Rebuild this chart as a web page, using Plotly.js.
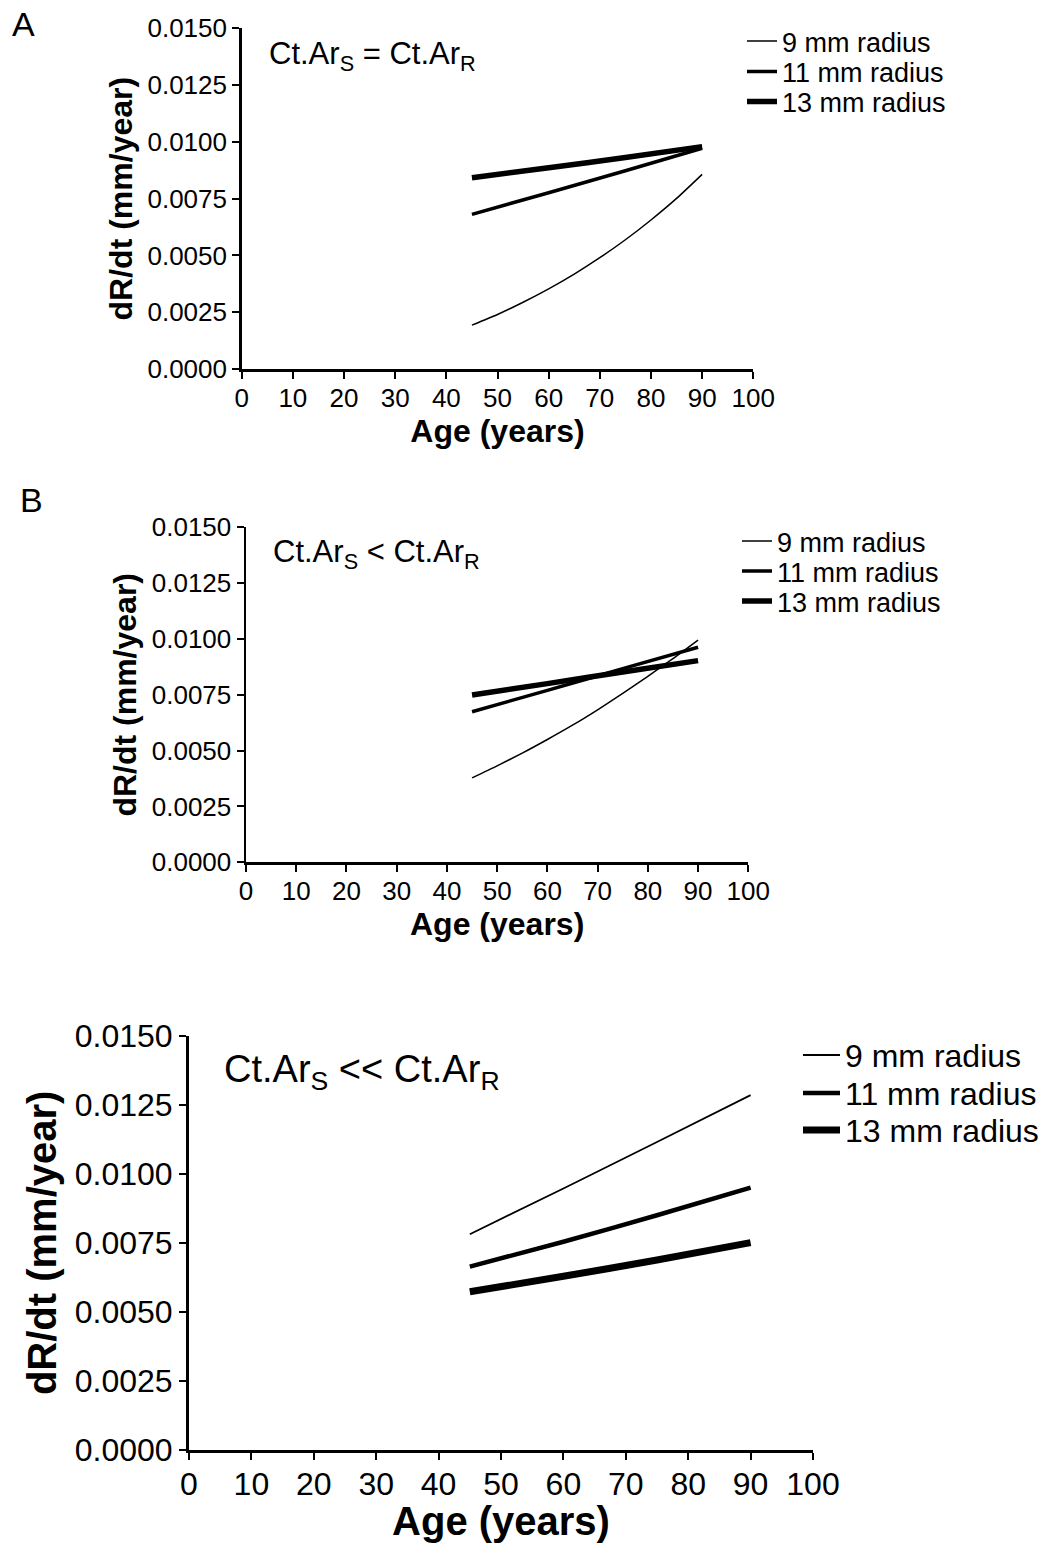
<!DOCTYPE html>
<html>
<head>
<meta charset="utf-8">
<script src="https://cdn.plot.ly/plotly-3.0.1.min.js"></script>
<style>html,body{margin:0;padding:0;background:#fff;}#chart{width:1060px;height:1543px;}</style>
</head>
<body>
<div id="chart"></div>
<script>
// ---------- data ----------
const ageCurve = [45, 50, 55, 60, 65, 70, 75, 80, 85, 90];
const ageLine = [45, 60, 75, 90];
const seriesNames = ['9 mm radius', '11 mm radius', '13 mm radius'];

// Panel A: Ct.Ar_S = Ct.Ar_R
const a9  = [0.00193, 0.00240, 0.00294, 0.00353, 0.00418, 0.00490, 0.00569, 0.00656, 0.00751, 0.00857];
const a11 = [0.00681, 0.00776, 0.00873, 0.00972];
const a13 = [0.00842, 0.00886, 0.00931, 0.00979];

// Panel B: Ct.Ar_S < Ct.Ar_R
const b9  = [0.00378, 0.00432, 0.00489, 0.00550, 0.00614, 0.00683, 0.00756, 0.00833, 0.00912, 0.00995];
const b11 = [0.00674, 0.00770, 0.00867, 0.00963];
const b13 = [0.00749, 0.00800, 0.00852, 0.00903];

// Panel C: Ct.Ar_S << Ct.Ar_R
const c9  = [0.00781, 0.00947, 0.01115, 0.01285];
const c11 = [0.00664, 0.00754, 0.00850, 0.00950];
const c13 = [0.00573, 0.00629, 0.00688, 0.00751];

const xTitle = 'Age (years)';
const yTitle = 'dR/dt (mm/year)';
const panelTexts = ['Ct.Ar<sub>S</sub> = Ct.Ar<sub>R</sub>', 'Ct.Ar<sub>S</sub> &lt; Ct.Ar<sub>R</sub>', 'Ct.Ar<sub>S</sub> &lt;&lt; Ct.Ar<sub>R</sub>'];
const panelLetters = ['A', 'B'];

// ---------- styling ----------
const FONT = 'Liberation Sans, Arial, Helvetica, sans-serif';
const W = 1060, H = 1543;
const px = v => v / W;
const py = v => 1 - v / H;

function tr(x, y, name, width, xa, ya, leg) {
  return {
    type: 'scatter', mode: 'lines', x: x, y: y, name: name,
    xaxis: xa, yaxis: ya, legend: leg, showlegend: true, hoverinfo: 'skip',
    line: {color: '#000', width: width, shape: 'spline', smoothing: 0.6}
  };
}

const wA = [1.5, 3.5, 5.5];
const wC = [1.8, 4.5, 7];
const data = [
  tr(ageCurve, a9,  seriesNames[0], wA[0], 'x', 'y', 'legend'),
  tr(ageLine,  a11, seriesNames[1], wA[1], 'x', 'y', 'legend2'),
  tr(ageLine,  a13, seriesNames[2], wA[2], 'x', 'y', 'legend3'),
  tr(ageCurve, b9,  seriesNames[0], wA[0], 'x2', 'y2', 'legend4'),
  tr(ageLine,  b11, seriesNames[1], wA[1], 'x2', 'y2', 'legend5'),
  tr(ageLine,  b13, seriesNames[2], wA[2], 'x2', 'y2', 'legend6'),
  tr(ageLine,  c9,  seriesNames[0], wC[0], 'x3', 'y3', 'legend7'),
  tr(ageLine,  c11, seriesNames[1], wC[1], 'x3', 'y3', 'legend8'),
  tr(ageLine,  c13, seriesNames[2], wC[2], 'x3', 'y3', 'legend9')
];

function xax(domain, anchor, tick, title, lw) {
  return {
    domain: domain, anchor: anchor, range: [0, 100], dtick: 10, tick0: 0,
    showline: true, linecolor: '#000', linewidth: lw, ticks: 'outside', ticklen: 7, tickwidth: 2, tickcolor: '#000',
    ticklabelstandoff: -3,
    showgrid: false, zeroline: false, fixedrange: true,
    tickfont: {family: FONT, size: tick, color: '#000'},
    title: {text: xTitle, font: {family: FONT, size: title, color: '#000', weight: 'bold'}, standoff: 0}
  };
}
function yax(domain, anchor, tick, title, lw, so) {
  return {
    domain: domain, anchor: anchor, range: [0, 0.015], dtick: 0.0025, tick0: 0, tickformat: '.4f',
    showline: true, linecolor: '#000', linewidth: lw, ticks: 'outside', ticklen: 7, tickwidth: 2, tickcolor: '#000',
    showgrid: false, zeroline: false, fixedrange: true,
    tickfont: {family: FONT, size: tick, color: '#000'},
    title: {text: yTitle, font: {family: FONT, size: title, color: '#000', weight: 'bold'}, standoff: so}
  };
}
// one legend per entry so each row sits where the reference has it
function leg(xLine, yCenter, size, iw) {
  const off = (1.3 * size + 3) / 2 + 5;
  return {x: px(xLine - 5), y: py(yCenter - off), xanchor: 'left', yanchor: 'top', bgcolor: 'rgba(0,0,0,0)', borderwidth: 0,
          font: {family: FONT, size: size, color: '#000'}, itemwidth: iw};
}

const layout = {
  width: W, height: H, margin: {l: 0, r: 0, t: 0, b: 0},
  paper_bgcolor: '#fff', plot_bgcolor: '#fff', showlegend: true,
  font: {family: FONT, color: '#000'},
  xaxis:  xax([px(241.7), px(753.3)], 'y', 26, 32, 2.5),
  yaxis:  yax([py(369), py(28.3)], 'x', 26, 32, 2.5, 6),
  xaxis2: xax([px(246), px(748.3)], 'y2', 26, 32, 2.5),
  yaxis2: yax([py(862.3), py(527.3)], 'x2', 26, 32, 2.5, 6),
  xaxis3: xax([px(189), px(813)], 'y3', 32, 40, 3),
  yaxis3: yax([py(1450), py(1035.7)], 'x3', 32, 40, 3, 6),
  legend:  leg(747, 41, 27, 30),
  legend2: leg(747, 71.5, 27, 30),
  legend3: leg(747, 101.5, 27, 30),
  legend4: leg(742, 541, 27, 30),
  legend5: leg(742, 571, 27, 30),
  legend6: leg(742, 601, 27, 30),
  legend7: leg(803, 1055, 32, 37),
  legend8: leg(803, 1093, 32, 37),
  legend9: leg(803, 1130, 32, 37),
  annotations: [
    {xref: 'x', yref: 'y', x: 5, y: 0.0138, xanchor: 'left', yanchor: 'middle', text: panelTexts[0], showarrow: false, font: {family: FONT, size: 31, color: '#000'}},
    {xref: 'x2', yref: 'y2', x: 5, y: 0.0138, xanchor: 'left', yanchor: 'middle', text: panelTexts[1], showarrow: false, font: {family: FONT, size: 31, color: '#000'}},
    {xref: 'x3', yref: 'y3', x: 5.3, y: 0.0137, xanchor: 'left', yanchor: 'middle', text: panelTexts[2], showarrow: false, font: {family: FONT, size: 38, color: '#000'}},
    {xref: 'paper', yref: 'paper', x: px(10), y: py(3), xanchor: 'left', yanchor: 'top', text: panelLetters[0], showarrow: false, font: {family: FONT, size: 34, color: '#000'}},
    {xref: 'paper', yref: 'paper', x: px(18), y: py(479), xanchor: 'left', yanchor: 'top', text: panelLetters[1], showarrow: false, font: {family: FONT, size: 34, color: '#000'}}
  ]
};

Plotly.newPlot('chart', data, layout, {staticPlot: true, displayModeBar: false});
</script>
</body>
</html>
